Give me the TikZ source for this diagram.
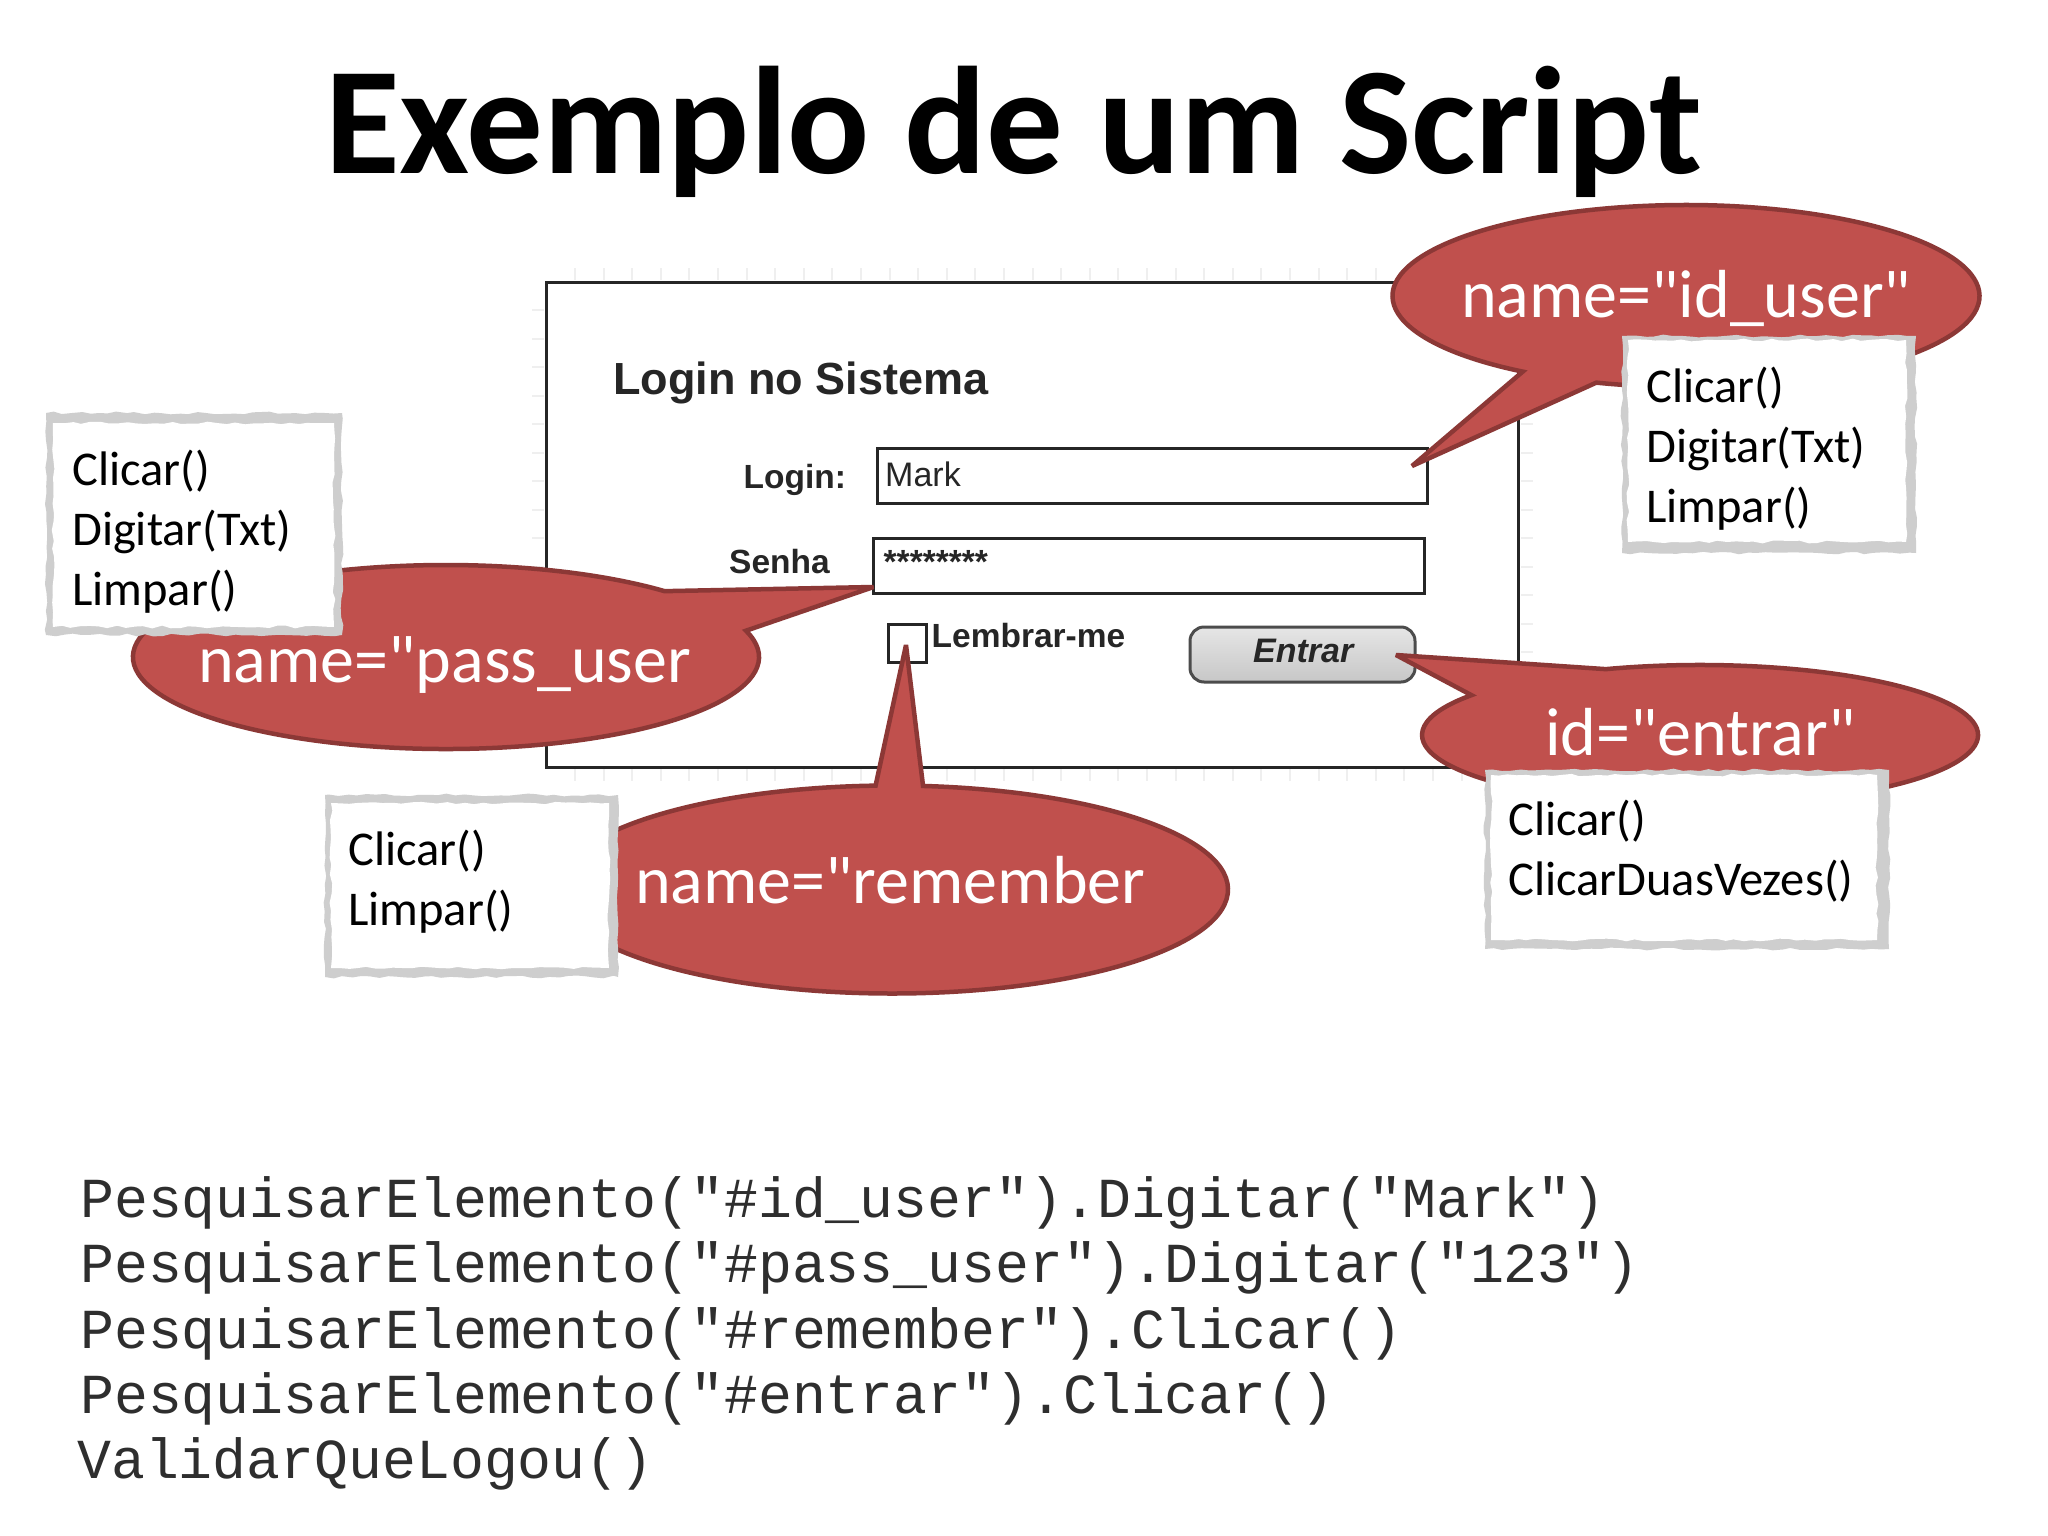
\documentclass[tikz,border=0pt]{standalone}
\usepackage{fontspec}
\usetikzlibrary{decorations.pathmorphing}
\setmainfont{Carlito}
\newfontfamily\calif{Carlito}
\newfontfamily\arialf{Liberation Sans}
\newfontfamily\monof{Liberation Mono}
\definecolor{calloutfill}{HTML}{C0504D}
\definecolor{calloutline}{HTML}{8C3836}
\definecolor{sketchgrey}{HTML}{CECECE}
\definecolor{tickgrey}{HTML}{EFEFEF}
\newcommand{\fsz}[1]{\fontsize{#1}{#1}\selectfont}
\newcommand{\callout}[8]{% cx cy rx ry t-start t-end tipx tipy
  \draw[calloutstyle] ({#1+#3*cos(#5)},{#2+#4*sin(#5)})
    arc[start angle=#5,end angle=#6,x radius=#3,y radius=#4]
    -- (#7,#8) -- cycle;}
\newcommand{\sketchbox}[8]{% outer x1 y1 x2 y2, inner x1 y1 x2 y2
  \fill[sketchgrey,rough] (#1,#2) rectangle (#3,#4);
  \fill[white,rough] (#5,#6) rectangle (#7,#8);}
\tikzset{
  rough/.style={decorate,decoration={random steps,segment length=9pt,amplitude=1.4pt}},
  calloutstyle/.style={fill=calloutfill,draw=calloutline,line width=4.5pt,line join=miter,miter limit=2.5},
  calltext/.style={anchor=base west,inner sep=0pt,text=white,font=\calif\fsz{68}},
  methodtext/.style={anchor=base west,inner sep=0pt,text=black,font=\calif\fsz{48.5}},
  codetext/.style={anchor=base west,inner sep=0pt,text=black!82,font=\monof\fsz{56.5}},
  uibold/.style={anchor=base west,inner sep=0pt,text=black!85,font=\arialf\bfseries\fsz{33.5}},
  field/.style={draw=black!85,line width=3pt,fill=white},
  ticks/.style={tickgrey,line width=2pt}
}
\begin{document}
\begin{tikzpicture}[x=1pt,y=1pt,yscale=-1]
\pgfmathsetseed{7}
\useasboundingbox (0,0) rectangle (2048,1536);
\fill[white] (0,0) rectangle (2048,1536);
% title
\node[anchor=base west,inner sep=0pt,font=\calif\bfseries\fsz{153}] (title) at (325,173) {Exemplo de um Script};
% faint rulers
\foreach \x in {575,604,632,661,689,718,747,775,804,832,861,890,918,947,975,1004,1033,1061,1090,1118,1147,1176,1204,1233,1261,1290,1319,1347,1376,1404,1433,1462,1490}{
  \draw[ticks] (\x,268) -- (\x,280);
  \draw[ticks] (\x,769) -- (\x,781);}
\foreach \y in {310,339,367,396,424,453,481,510,538,567,595,624,652,681,709,738}{
  \draw[ticks] (532,\y) -- (544,\y);
  \draw[ticks] (1521,\y) -- (1533,\y);}
% login form
\draw[black!85,line width=3pt,fill=white] (546.5,282) rectangle (1518,767);
\node[anchor=base west,inner sep=0pt,text=black!85,font=\arialf\bfseries\fsz{45}] (formtitle) at (613,394) {Login no Sistema};
\node[uibold] (loginlabel) at (743.5,488) {Login:};
\draw[field] (877,448) rectangle (1427,503);
\node[anchor=base west,inner sep=0pt,text=black!85,font=\arialf\fsz{34}] (mark) at (885,486) {Mark};
\node[uibold] (senhalabel) at (729,573) {Senha};
\draw[field] (873.5,538) rectangle (1424,593);
\node[uibold] (stars) at (883.5,573) {********};
\draw[field] (888,624) rectangle (926,662);
\node[uibold] (lembrar) at (931.5,647) {Lembrar-me};
\draw[draw=black!70,line width=3pt,rounded corners=14pt,top color=black!10,bottom color=black!22] (1190,627) rectangle (1415,682);
\node[anchor=base west,inner sep=0pt,text=black!85,font=\arialf\bfseries\itshape\fsz{34}] (entrar) at (1253,662) {Entrar};
% callouts
\callout{1686}{296}{293.5}{91}{123.8}{467.8}{1412}{466}
\callout{446}{657}{313}{92}{-16.6}{314.3}{873.5}{587}
\callout{892}{889.5}{336}{104}{-84.7}{267.2}{906}{645}
\callout{1700}{735}{278}{70}{250.2}{574.7}{1396}{655}
% callout texts
\node[calltext] (c1) at (1461,317.5) {name="id\_user"};
\node[calltext] (c2) at (198,682) {name="pass\_user};
\node[calltext] (c3) at (635,903.5) {name="remember};
\node[calltext] (c4) at (1545,755) {id="entrar"};
% method boxes
\sketchbox{46}{413}{342}{635}{53}{423}{334}{627}
\node[methodtext] (a1) at (72,485) {Clicar()};
\node[methodtext] (a2) at (72,545) {Digitar(Txt)};
\node[methodtext] (a3) at (72,605) {Limpar()};
\sketchbox{1622}{336}{1916}{553}{1628}{340}{1906}{542}
\node[methodtext] (b1) at (1646,402) {Clicar()};
\node[methodtext] (b2) at (1646,462) {Digitar(Txt)};
\node[methodtext] (b3) at (1646,522) {Limpar()};
\sketchbox{325}{795}{618}{977}{331}{803}{609}{968}
\node[methodtext] (d1) at (348,865) {Clicar()};
\node[methodtext] (d2) at (348,925) {Limpar()};
\sketchbox{1485}{770}{1889}{949}{1491}{775}{1877}{940}
\node[methodtext] (e1) at (1508,835) {Clicar()};
\node[methodtext] (e2) at (1508,895) {ClicarDuasVezes()};
% code
\node[codetext] (l1) at (80,1217) {PesquisarElemento("\#id\_user").Digitar("Mark")};
\node[codetext] (l2) at (80,1282) {PesquisarElemento("\#pass\_user").Digitar("123")};
\node[codetext] (l3) at (80,1348) {PesquisarElemento("\#remember").Clicar()};
\node[codetext] (l4) at (80,1413) {PesquisarElemento("\#entrar").Clicar()};
\node[codetext] (l5) at (77,1478) {ValidarQueLogou()};
\end{tikzpicture}
\end{document}
